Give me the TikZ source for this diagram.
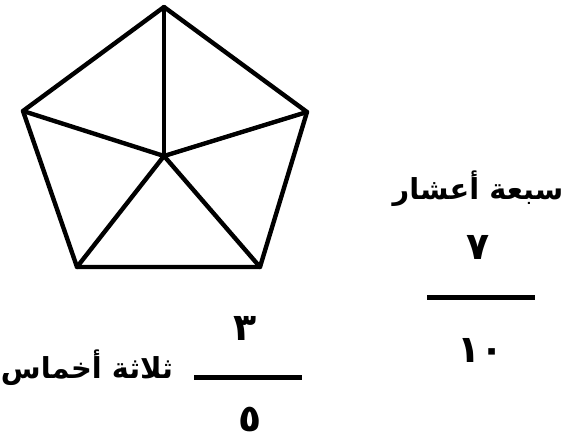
\documentclass[tikz,border=0pt]{standalone}
\usepackage{fontspec}
\newfontfamily\arabicfont[Script=Arabic]{DejaVu Sans}
\TeXXeTstate=1
\usetikzlibrary{positioning}

\tikzset{
  edge/.style={line width=4.4bp, line join=round, line cap=round},
  word/.style={font=\arabicfont\bfseries\fontsize{29}{34}\selectfont, inner sep=0pt},
  digit/.style={font=\arabicfont\bfseries\fontsize{38}{44}\selectfont, inner sep=0pt,
    text depth=0pt, anchor=base},
  fracbar/.style={line width=5bp}
}

\begin{document}
\begin{tikzpicture}[x=1bp, y=-1bp]
      \useasboundingbox (0,0) rectangle (567,441);
      % pentagon
      \coordinate (top) at (164,7);
      \coordinate (left) at (23,111);
      \coordinate (right) at (307,112);
      \coordinate (botL) at (77,267);
      \coordinate (botR) at (260,267);
      \coordinate (mid) at (164,156);
      \draw[edge] (top) -- (right) -- (botR) -- (botL) -- (left) -- cycle;
      \foreach \v in {top, left, right, botL, botR}
        \draw[edge] (mid) -- (\v);

      % seven tenths
      \node[word] (sevenW) at (478,189) {\beginR سبعة أعشار\endR};
      \node[digit] (sevenN) at (478,260) {٧};
      \coordinate (barAL) at (427,297);
      \coordinate (barAR) at (535,297);
      \draw[fracbar] (barAL) -- (barAR);
      \node[digit] (tenD) at (481,362) {١٠};

      % three fifths
      \node[word] (threeW) at (87,368) {\beginR ثلاثة أخماس\endR};
      \node[digit] (threeN) at (245,340) {٣};
      \coordinate (barBL) at (194,377);
      \coordinate (barBR) at (302,377);
      \draw[fracbar] (barBL) -- (barBR);
      \node[digit] (fiveD) at (250,431) {٥};
    \end{tikzpicture}
\end{document}
